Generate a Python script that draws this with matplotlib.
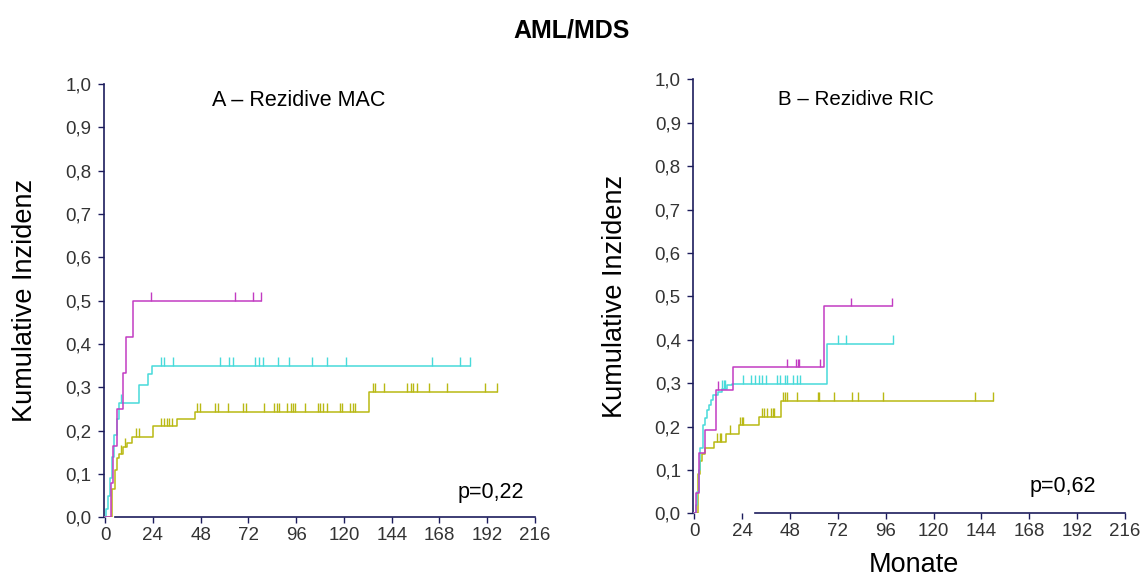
import numpy as np
import matplotlib.pyplot as plt

plt.rcParams['font.family'] = ['Liberation Sans', 'DejaVu Sans']

# ---- Panel A: Rezidive MAC (months, cumulative incidence) ----
a_mag_t = [0, 3.0, 3.9, 5.8, 8.9, 10.6, 13.9, 78.2]
a_mag_v = [0, 0.08, 0.165, 0.25, 0.333, 0.416, 0.50, 0.50]
a_mag_cens = [23.1, 65.3, 74.5, 78.2]

a_cyan_t = [0, 0.5, 1.5, 2.5, 3.5, 4.5, 5.9, 7.2, 17.2, 21.8, 23.6, 183.1]
a_cyan_v = [0, 0.02, 0.05, 0.09, 0.14, 0.19, 0.228, 0.264, 0.306, 0.33, 0.349, 0.349]
a_cyan_cens = [8.0, 28.0, 29.6, 34.0, 57.8, 62.5, 64.2, 75.2, 77.5, 79.2, 87.1,
               92.6, 103.9, 111.4, 121.1, 164.2, 178.4, 183.1]

a_yel_t = [0, 3.4, 5.0, 6.2, 7.2, 8.9, 10.9, 13.4, 24.0, 36.3, 45.2, 132.8, 197.1]
a_yel_v = [0, 0.066, 0.109, 0.136, 0.147, 0.162, 0.172, 0.186, 0.21, 0.226, 0.243,
           0.289, 0.289]
a_yel_cens = [7.9, 10.1, 15.6, 17.2, 28.0, 29.6, 31.0, 32.2, 33.5, 46.1, 47.7, 55.3,
              56.9, 62.0, 69.2, 70.9, 79.9, 84.9, 86.3, 87.6, 91.3, 93.5, 94.6, 95.5,
              100.5, 107.2, 108.0, 109.4, 111.4, 118.1, 119.2, 123.1, 124.5, 125.6,
              134.5, 135.5, 140.2, 151.6, 153.6, 154.9, 156.6, 162.5, 172.0, 191.0, 197.1]

# ---- Panel B: Rezidive RIC ----
b_mag_t = [0, 0.9, 2.5, 5.4, 10.9, 19.6, 65.0, 99.3]
b_mag_v = [0, 0.048, 0.14, 0.192, 0.285, 0.337, 0.477, 0.477]
b_mag_cens = [11.7, 46.7, 51.0, 51.8, 52.7, 63.0, 78.5, 99.2]

b_cyan_t = [0, 0.8, 1.5, 2.2, 3.0, 4.2, 5.2, 6.2, 7.2, 8.5, 9.6, 12.0, 13.8, 16.3,
            18.8, 66.7, 99.7]
b_cyan_v = [0, 0.02, 0.05, 0.10, 0.15, 0.203, 0.22, 0.238, 0.25, 0.262, 0.272, 0.28,
            0.287, 0.295, 0.299, 0.391, 0.391]
b_cyan_cens = [13.8, 14.7, 15.5, 24.3, 28.5, 30.5, 32.2, 33.8, 36.0, 41.7, 43.0, 45.5,
               46.7, 49.7, 51.3, 53.0, 72.2, 76.3, 99.7]

b_yel_t = [0, 2.0, 2.9, 3.8, 5.5, 9.7, 16.0, 22.5, 32.2, 43.3, 149.7]
b_yel_v = [0, 0.09, 0.12, 0.138, 0.15, 0.165, 0.183, 0.203, 0.222, 0.259, 0.259]
b_yel_cens = [11.3, 12.7, 13.3, 18.0, 23.0, 23.7, 24.5, 33.8, 35.0, 36.3, 38.5, 39.2,
              40.0, 44.3, 45.5, 46.7, 51.7, 62.2, 62.7, 70.0, 79.3, 82.2, 94.7,
              140.5, 149.7]

x_ticks = [0, 24, 48, 72, 96, 120, 144, 168, 192, 216]
y_ticks = [0.0, 0.1, 0.2, 0.3, 0.4, 0.5, 0.6, 0.7, 0.8, 0.9, 1.0]
y_labels = [f"{v:.1f}".replace('.', ',') for v in y_ticks]

col_mag = '#c23cc2'
col_cyan = '#48dada'
col_yel = '#b9b914'
axis_col = '#1c1c5c'


def draw_curve(ax, t, v, cens, color):
    t = np.asarray(t)
    v = np.asarray(v)
    ax.step(t, v, where='post', color=color, lw=1.1, zorder=3)
    # censoring marks sit on top of the step level at each time
    cens = np.asarray(cens)
    idx = np.searchsorted(t, cens, side='right') - 1
    lvl = v[idx]
    ax.vlines(cens, lvl, lvl + 0.02, color=color, lw=1.0, zorder=3)


def style_axis(ax, title, pval, ptxt_pos, title_pos, spine_start, title_size):
    ax.set_xlim(-0.5, 216)
    ax.set_ylim(0, 1.0)
    ax.spines['top'].set_visible(False)
    ax.spines['right'].set_visible(False)
    for s in ['left', 'bottom']:
        ax.spines[s].set_color(axis_col)
        ax.spines[s].set_linewidth(1.2)
    ax.spines['bottom'].set_bounds(spine_start, 216)
    ax.set_xticks(x_ticks)
    ax.set_yticks(y_ticks)
    ax.set_yticklabels(y_labels)
    ax.tick_params(axis='both', direction='out', length=4, width=1.0,
                   color=axis_col, labelcolor='#333333', labelsize=13.5)
    ax.tick_params(axis='y', pad=5)
    ax.tick_params(axis='x', pad=3)
    ax.set_ylabel('Kumulative Inzidenz', fontsize=19.5)
    ax.yaxis.set_label_coords(-0.152, 0.5)
    ax.text(title_pos[0], title_pos[1], title, fontsize=title_size, ha='center', va='center')
    ax.text(ptxt_pos[0], ptxt_pos[1], pval, fontsize=15.5, ha='center', va='center')


fig = plt.figure(figsize=(11.43, 5.80), dpi=100)
ax_a = fig.add_axes([0.0910, 0.1081, 0.3771, 0.7471])
ax_b = fig.add_axes([0.6066, 0.1147, 0.3777, 0.7483])

draw_curve(ax_a, a_yel_t, a_yel_v, a_yel_cens, col_yel)
draw_curve(ax_a, a_cyan_t, a_cyan_v, a_cyan_cens, col_cyan)
draw_curve(ax_a, a_mag_t, a_mag_v, a_mag_cens, col_mag)
style_axis(ax_a, 'A \u2013 Rezidive MAC', 'p=0,22', (194, 0.058), (97.5, 0.963), 5, 15.5)

draw_curve(ax_b, b_yel_t, b_yel_v, b_yel_cens, col_yel)
draw_curve(ax_b, b_cyan_t, b_cyan_v, b_cyan_cens, col_cyan)
draw_curve(ax_b, b_mag_t, b_mag_v, b_mag_cens, col_mag)
style_axis(ax_b, 'B \u2013 Rezidive RIC', 'p=0,62', (185, 0.061), (80.8, 0.953), 30.4, 14.8)
ax_b.set_xlabel('Monate', fontsize=19.5)
ax_b.xaxis.set_label_coords(0.511, -0.088)

fig.text(0.5, 0.948, 'AML/MDS', fontsize=18, fontweight='bold', ha='center', va='center')

fig.savefig('out.png', dpi=100)
